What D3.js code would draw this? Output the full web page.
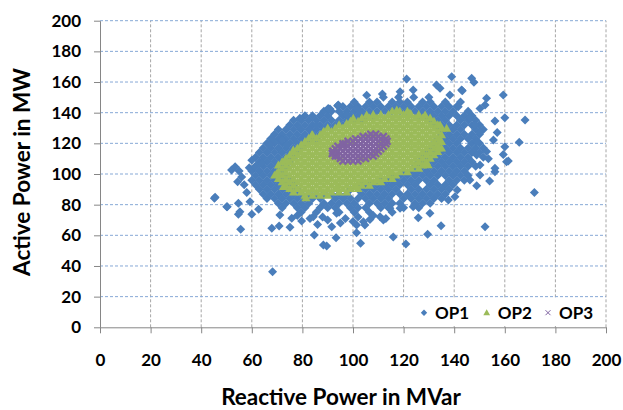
<!DOCTYPE html>
<html>
<head>
<meta charset="utf-8">
<script src="https://cdn.jsdelivr.net/npm/d3@7"></script>
<style>
  body { margin: 0; background: #fff; }
  svg { display: block; }
  text { font-family: Lato, "Open Sans", sans-serif; font-weight: bold; fill: #000; }
</style>
</head>
<body>
<svg id="chart" width="623" height="410"></svg>
<script>
// axis ticks
const xTicks = [0, 20, 40, 60, 80, 100, 120, 140, 160, 180, 200];
const yTicks = [0, 20, 40, 60, 80, 100, 120, 140, 160, 180, 200];
const seriesNames = ["OP1", "OP2", "OP3"];

// OP1 dense band, read row by row: [active MW, [reactive MVar ...]]
const op1Rows = [
  [150, [112,118,124,130]],
  [147, [100.5,106.5,109.5,115.5,118.5,121.5,127.5,130.5,136.5,142.5]],
  [144, [96,99,102,105,108,111,114,117,120,123,126,129,132,135,138,141]],
  [141, [88.5,91.5,94.5,97.5,100.5,103.5,106.5,109.5,112.5,115.5,118.5,121.5,124.5,127.5,130.5,133.5,136.5,139.5,145.5]],
  [138, [81,84,87,90,96,99,102,105,108,126,129,132,135,138,141,144,147]],
  [135, [76.5,79.5,82.5,85.5,88.5,91.5,94.5,97.5,100.5,103.5,130.5,133.5,136.5,142.5,145.5,148.5]],
  [132, [75,78,81,84,87,90,93,96,132,135,138,141,144,147,150]],
  [129, [70.5,73.5,76.5,79.5,82.5,85.5,88.5,91.5,133.5,136.5,139.5,142.5,148.5,151.5]],
  [126, [69,72,75,78,81,84,87,135,138,141,144,147,150]],
  [123, [67.5,70.5,73.5,76.5,79.5,82.5,85.5,133.5,136.5,139.5,142.5,145.5,148.5]],
  [120, [66,69,72,75,78,81,132,135,138,141,147,150]],
  [117, [64.5,67.5,70.5,73.5,76.5,79.5,130.5,133.5,136.5,139.5,142.5,145.5,148.5,151.5]],
  [114, [63,66,69,72,75,78,129,132,135,138,141,144,147,150]],
  [111, [61.5,64.5,67.5,70.5,73.5,76.5,127.5,130.5,133.5,136.5,139.5,142.5,145.5,151.5]],
  [108, [63,66,69,72,75,126,129,132,135,138,141,144,147]],
  [105, [61.5,64.5,67.5,70.5,73.5,124.5,127.5,130.5,133.5,136.5,139.5,142.5,145.5,148.5]],
  [102, [60,63,66,69,72,120,123,126,129,132,135,138,141,144]],
  [99,  [61.5,64.5,67.5,70.5,73.5,115.5,118.5,121.5,124.5,127.5,130.5,133.5,136.5,139.5,142.5,145.5]],
  [96,  [60,63,66,69,72,75,111,114,117,120,123,126,129,132,138,141,144]],
  [93,  [61.5,64.5,67.5,70.5,73.5,76.5,103.5,106.5,109.5,112.5,115.5,118.5,121.5,124.5,130.5,133.5,136.5,139.5]],
  [90,  [63,66,69,72,75,78,99,102,105,108,111,114,117,123,126,129,132,135,138]],
  [87,  [64.5,67.5,70.5,73.5,76.5,79.5,82.5,85.5,88.5,91.5,94.5,97.5,103.5,106.5,109.5,112.5,115.5,118.5,121.5,124.5,127.5,130.5,133.5,136.5]],
  [84,  [66,69,72,75,78,81,84,87,93,96,99,102,105,108,111,114,120,123,126,129,132,135]],
  [81,  [70.5,73.5,76.5,79.5,82.5,88.5,91.5,94.5,97.5,100.5,106.5,109.5,112.5,115.5,118.5,124.5,127.5,130.5]],
  [78,  [72,78,81,87,90,93,99,102,105,111,114,120,126]],
  [75,  [79.5,85.5,94.5,100.5,106.5,115.5]]
];

// OP1 scattered points: [reactive MVar, active MW]
const op1Scatter = [
  [56,98],[57,93],[55,102],[58,88],[59,104],[60,109],
  [45.2,84.1],[50.3,78.7],[54.7,73.7],[55.3,75.4],[55.6,63.9],[60,73.7],[59.3,81.9],[62.7,77],[54.4,95],[68.2,36.3],
  [67.9,64.6],[70.8,66.1],[75.1,65.2],[84.7,60.2],[88.3,53.7],[89.6,53],[93.3,58.4],[91.6,65.6],[90,70],[79.7,69.3],
  [84.3,72.1],[71.1,73.3],[75.8,71.1],[101.4,66.7],[103,54.8],[104.1,68.9],[93.5,74.4],[101.4,61.7],[104.7,66.7],
  [86,67],[95,68],[100,69],[78,73],[83,71],[88,72],[97,71],[102,72],[108,73],[113,71],
  [171.7,88],[152.2,65.6],[134.8,66.3],[130.4,74.4],[125.8,71.5],[129.5,60.7],[120.9,54.3],[115.9,58.9],[106.7,70.4],
  [110.7,72.1],[112,70],[148.9,92.4],[146.2,96.1],[140.3,85.2],[137.7,83],[141.2,89.6],[118.6,77.6],[123.8,78.7],[114.6,77.6],
  [121.2,162],[139,163.5],[146.9,162.4],[147.8,159.8],[159.4,151.5],[111.6,152.2],[123.8,154.8],[133,158],[134.4,155.9],
  [142.9,154.8],[138.3,151.5],[118.6,153.7],[152.8,149.4],[152.2,145],[160,136.7],[168,135.2],[156.1,134.6],[165.7,120.7],
  [160,117.8],[159.4,112.8],[160.7,108],[156.1,101.5],[150.2,105.9],[152.8,114.6],[148.9,112.4],[155.5,122.2],[148.9,121.1],
  [150.2,127.6],[148.2,132],[146.2,136.3],[150.2,142.8],[141.6,143.9],[143.2,154.3],[156.1,103.7],[150.2,99.3],[161.4,108.5],
  [105.4,151.4],[93.9,144.6],[90.2,142.8],[79,136.3],[71.1,122.2],[67.9,122.8],[67.2,118.9],[53.4,104.8],[52,102.6],
  [61.3,104.8],[63.9,107],[73.8,118.9],[83,128.7],[85.6,132],[97.5,138.5],[101.4,142.8],[102.8,140.6],[45.5,84.8],
  [50.1,78.7],[54.7,80.9],[71.8,122.2],[90.9,142.4],[94.2,145],[90.5,142.2],[154,95.5],[153.5,110],[157,127]
];

// OP2 rows: [active MW, [reactive MVar ...]]
const op2Rows = [
  [86,    [81,84,87,90]],
  [88.2,  [76.5,79.5,82.5,85.5,88.5,91.5,94.5,97.5]],
  [90.4,  [75,78,81,84,87,90,93,96,99,102]],
  [92.6,  [73.5,76.5,79.5,82.5,85.5,88.5,91.5,94.5,97.5,100.5,103.5,106.5]],
  [94.8,  [72,75,78,81,84,87,90,93,96,99,102,105,108,111]],
  [97,    [70.5,73.5,76.5,79.5,82.5,85.5,88.5,91.5,94.5,97.5,100.5,103.5,106.5,109.5,112.5,115.5]],
  [99.2,  [69,72,75,78,81,84,87,90,93,96,99,102,105,108,111,114,117]],
  [101.4, [70.5,73.5,76.5,79.5,82.5,85.5,88.5,91.5,94.5,97.5,100.5,103.5,106.5,109.5,112.5,115.5,118.5,121.5]],
  [103.6, [72,75,78,81,84,87,90,93,96,99,102,105,108,111,114,117,120,123,126]],
  [105.8, [70.5,73.5,76.5,79.5,82.5,85.5,88.5,91.5,94.5,97.5,100.5,103.5,106.5,109.5,112.5,115.5,118.5,121.5,124.5,127.5]],
  [108,   [72,75,78,81,84,87,90,93,96,99,102,105,108,111,114,117,120,123,126,129]],
  [110.2, [73.5,76.5,79.5,82.5,85.5,88.5,91.5,94.5,103.5,106.5,109.5,112.5,115.5,118.5,121.5,124.5,127.5,130.5]],
  [112.4, [75,78,81,84,87,90,93,108,111,114,117,120,123,126,129,132]],
  [114.6, [76.5,79.5,82.5,85.5,88.5,91.5,109.5,112.5,115.5,118.5,121.5,124.5,127.5,130.5,133.5]],
  [116.8, [78,81,84,87,90,93,111,114,117,120,123,126,129,132,135]],
  [119,   [79.5,82.5,85.5,88.5,91.5,94.5,112.5,115.5,118.5,121.5,124.5,127.5,130.5,133.5]],
  [121.2, [81,84,87,90,93,96,99,111,114,117,120,123,126,129,132,135]],
  [123.4, [82.5,85.5,88.5,91.5,94.5,97.5,100.5,112.5,115.5,118.5,121.5,124.5,127.5,130.5,133.5]],
  [125.6, [84,87,90,93,96,99,102,105,108,111,114,117,120,123,126,129,132,135]],
  [127.8, [88.5,91.5,94.5,97.5,100.5,103.5,106.5,109.5,112.5,115.5,118.5,121.5,124.5,127.5,130.5,133.5]],
  [130,   [90,93,96,99,102,105,108,111,114,117,120,123,126,129,132,135]],
  [132.2, [94.5,97.5,100.5,103.5,106.5,109.5,112.5,115.5,118.5,121.5,124.5,127.5,130.5,133.5]],
  [134.4, [99,102,105,108,111,114,117,120,123,126,129,132]],
  [136.6, [103.5,106.5,109.5,112.5,115.5,118.5,121.5,124.5,127.5,130.5]],
  [138.8, [108,111,114,117,120,123,126]],
  [141,   [115.5,118.5,121.5]]
];

// OP2 edge points: [reactive MVar, active MW]
const op2Scatter = [
  [69.8,100.4],[73.1,109],[76.4,115.6],[83.7,125.4],[88.3,127.6],[97.5,133],[100.1,136.3],[105.4,138.5],[117.3,141.7],
  [122.5,139.6],[128.5,138.5],[134.4,132],[137,129.8],[134.4,122.2],[133.7,116.8],[129.7,105.9],[129,107],[81.4,84.5],
  [72.5,91.7],[93.5,91.7],[101.4,91.7],[109.4,96],[114.6,101.5]
];

// OP3 rows: [active MW, [reactive MVar ...]]
const op3Rows = [
  [108.5, [96,98,100,102]],
  [110.1, [95,97,99,101,103,105]],
  [111.7, [93,94,96,98,100,102,104,106,108]],
  [113.3, [91.8,93,95,97,99,101,103,105,107,109]],
  [114.9, [92,94,96,98,100,102,104,106,108,110]],
  [116.5, [93,95,97,99,101,103,105,107,109,111]],
  [118.1, [94,96,98,100,102,104,106,108,110,112]],
  [119.7, [96,97,99,101,103,105,107,109,111,113]],
  [121.3, [98,100,102,104,106,108,110,112,113.5]],
  [122.9, [101,103,105,107,109,111,113]],
  [124.5, [104,106,108,110,112]],
  [126,   [107,109]]
];

const fromRows = rows => rows.flatMap(([py, xs]) => xs.map(px => [px, py]));
const op1 = fromRows(op1Rows).concat(op1Scatter);
const op2 = fromRows(op2Rows).concat(op2Scatter);
const op3 = fromRows(op3Rows);

const colors = ["#4a7ebb", "#9bbb59", "#8064a2"];

const svg = d3.select("#chart");
const x = d3.scaleLinear().domain([0, 200]).range([100, 606]);
const y = d3.scaleLinear().domain([0, 200]).range([327.3, 20.7]);

// gridlines
svg.append("g")
  .selectAll("line")
  .data(xTicks.filter(d => d > 0))
  .enter().append("line")
  .attr("x1", d => x(d)).attr("x2", d => x(d))
  .attr("y1", y(0)).attr("y2", y(200))
  .attr("stroke", "#a6a6a6")
  .attr("stroke-dasharray", "3,2");

svg.append("g")
  .selectAll("line")
  .data(yTicks.filter(d => d > 0))
  .enter().append("line")
  .attr("x1", x(0)).attr("x2", x(200))
  .attr("y1", d => y(d)).attr("y2", d => y(d))
  .attr("stroke", "#87a9d6")
  .attr("stroke-dasharray", "3,2");

// markers
const diamond = r => `M0,${-r}L${r},0L0,${r}L${-r},0Z`;
const triangle = s => `M0,${-s}L${s},${s * 0.75}L${-s},${s * 0.75}Z`;
const cross = s => `M${-s},${-s}L${s},${s}M${-s},${s}L${s},${-s}`;

svg.append("g")
  .selectAll("path")
  .data(op1)
  .enter().append("path")
  .attr("transform", d => `translate(${x(d[0])},${y(d[1])})`)
  .attr("d", diamond(4.5))
  .attr("fill", colors[0]);

svg.append("g")
  .selectAll("path")
  .data(op2)
  .enter().append("path")
  .attr("transform", d => `translate(${x(d[0])},${y(d[1])})`)
  .attr("d", triangle(4.5))
  .attr("fill", colors[1]);

svg.append("g")
  .selectAll("path")
  .data(op3)
  .enter().append("path")
  .attr("transform", d => `translate(${x(d[0])},${y(d[1])})`)
  .attr("d", cross(3.4))
  .attr("fill", "none")
  .attr("stroke", colors[2])
  .attr("stroke-width", 2.4);

// axes
const xAxis = svg.append("g")
  .attr("transform", `translate(0,${y(0)})`)
  .call(d3.axisBottom(x).tickValues(xTicks).tickSize(6).tickPadding(21).tickSizeOuter(0));
const yAxis = svg.append("g")
  .attr("transform", `translate(${x(0)},0)`)
  .call(d3.axisLeft(y).tickValues(yTicks).tickSize(6).tickPadding(13).tickSizeOuter(0));

[xAxis, yAxis].forEach(g => {
  g.select(".domain").attr("stroke", "#868686");
  g.selectAll(".tick line").attr("stroke", "#868686");
  g.selectAll(".tick text")
    .attr("fill", "#000")
    .style("font-family", "Lato, 'Open Sans', sans-serif")
    .style("font-weight", "bold")
    .style("font-size", "17px");
});

// axis titles
svg.append("text")
  .attr("x", 341).attr("y", 404.5)
  .attr("text-anchor", "middle")
  .style("font-size", "22.5px")
  .text("Reactive Power in MVar");

svg.append("text")
  .attr("transform", "translate(30,172) rotate(-90)")
  .attr("text-anchor", "middle")
  .style("font-size", "22.5px")
  .text("Active Power in MW");

// legend
const legend = svg.append("g");
legend.append("rect")
  .attr("x", 398).attr("y", 299).attr("width", 205).attr("height", 27)
  .attr("fill", "#fff");

const legendX = [424, 486.7, 548];
const items = legend.selectAll("g.item")
  .data(seriesNames)
  .enter().append("g")
  .attr("class", "item")
  .attr("transform", (d, i) => `translate(${legendX[i]},312.7)`);

items.append("path")
  .attr("d", (d, i) => i === 0 ? diamond(3.2) : i === 1 ? triangle(3.4) : cross(2.5))
  .attr("fill", (d, i) => i === 2 ? "none" : colors[i])
  .attr("stroke", (d, i) => i === 2 ? colors[2] : "none")
  .attr("stroke-width", 1);

items.append("text")
  .attr("x", 11)
  .attr("dy", "0.36em")
  .style("font-size", "17px")
  .text(d => d);
</script>
</body>
</html>
